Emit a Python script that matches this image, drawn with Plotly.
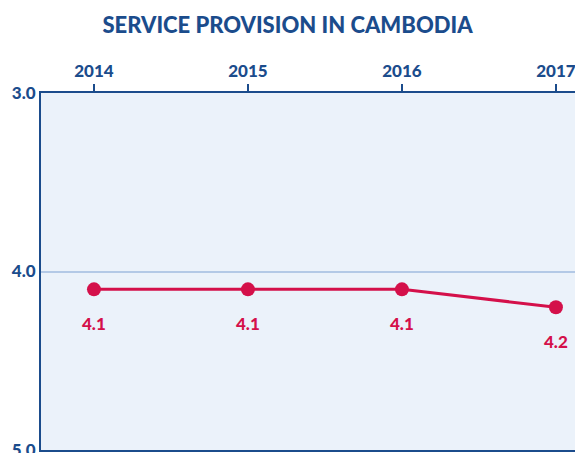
import plotly.graph_objects as go

years = [2014, 2015, 2016, 2017]
scores = [4.1, 4.1, 4.1, 4.2]
score_labels = ["4.1", "4.1", "4.1", "4.2"]
y_ticks = [3.0, 4.0, 5.0]
y_tick_labels = ["3.0", "4.0", "5.0"]

navy = "#1b4c8c"
red = "#d4104a"

fig = go.Figure()
fig.add_trace(go.Scatter(
    x=years, y=scores, mode="lines+markers",
    line=dict(color=red, width=3),
    marker=dict(color=red, size=14),
    hoverinfo="skip", showlegend=False,
))

for x, y, t in zip(years, scores, score_labels):
    fig.add_annotation(x=x, y=y, text=t, showarrow=False, yshift=-34,
                       font=dict(family="Lato", size=17, color=red, weight=900))

fig.update_layout(
    width=575, height=453,
    margin=dict(l=41, r=0, t=93, b=3),
    paper_bgcolor="white", plot_bgcolor="#ebf2fa",
    title=dict(text="SERVICE PROVISION IN CAMBODIA", x=0.5, xanchor="center",
               y=0.945, yanchor="middle",
               font=dict(family="Lato", size=22, color=navy, weight=900)),
)
fig.update_xaxes(
    side="top", range=[2013.656, 2017.124], tickvals=years,
    ticktext=[str(y) for y in years], ticklabeloverflow="allow", automargin=False,
    ticks="outside", ticklen=7, tickwidth=2, tickcolor=navy,
    showgrid=False, zeroline=False,
    showline=True, linecolor=navy, linewidth=2, mirror=True,
    tickfont=dict(family="Lato", size=17, color=navy, weight=900),
)
fig.update_yaxes(
    range=[5.0, 3.0], tickvals=y_ticks, ticktext=y_tick_labels,
    ticklabeloverflow="allow", automargin=False,
    ticks="", showgrid=True, gridcolor="#b3c9e6", gridwidth=2,
    zeroline=False, showline=True, linecolor=navy, linewidth=2, mirror=False,
    tickfont=dict(family="Lato", size=17, color=navy, weight=900),
)

fig.write_html("out.html", config={"displayModeBar": False},
               post_script="document.body.style.margin='0';")
